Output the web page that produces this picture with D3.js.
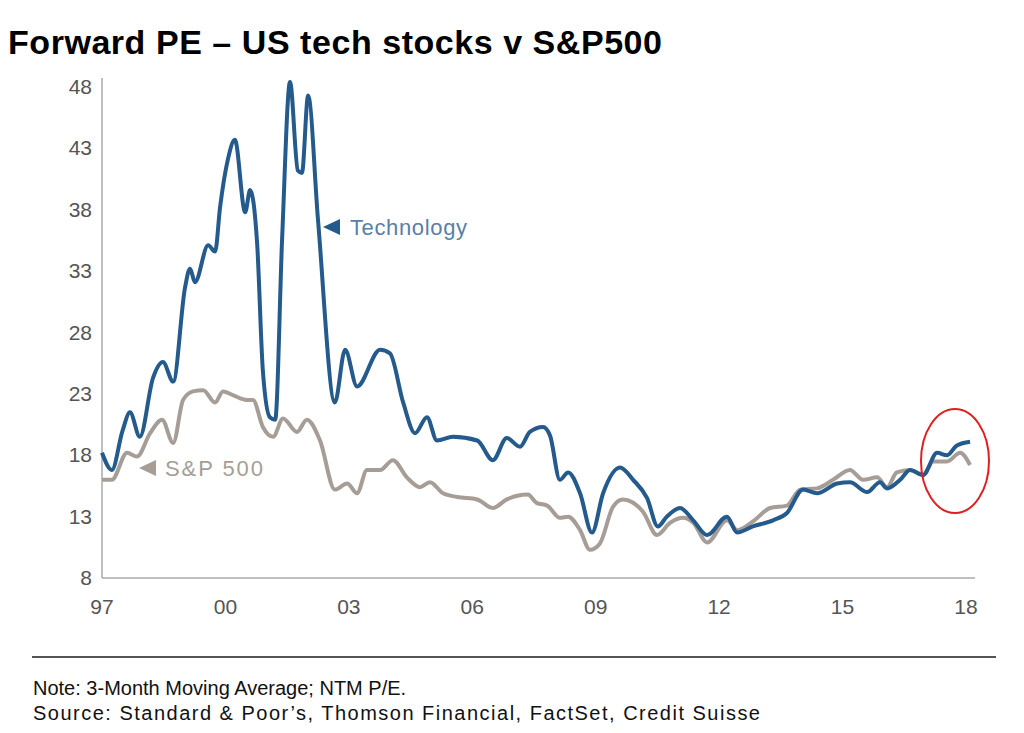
<!DOCTYPE html>
<html><head><meta charset="utf-8">
<script src="https://cdn.jsdelivr.net/npm/d3@7"></script>
<style>body{margin:0;background:#fff}</style>
</head><body>
<svg id="screen" width="1024" height="733"></svg>
<script>
// years since Jan 1997
var techX=[0,0.24,0.5,0.68,0.92,1.24,1.48,1.73,2.02,2.14,2.26,2.58,2.75,2.87,3.06,3.23,3.48,3.60,3.77,3.91,4.08,4.21,4.38,4.57,4.76,4.86,5.01,5.25,5.66,5.91,6.20,6.76,7.00,7.32,7.61,7.90,8.14,8.53,9.12,9.50,9.84,10.16,10.40,10.72,10.89,11.13,11.33,11.62,11.91,12.18,12.59,12.91,13.25,13.51,13.73,14.05,14.37,14.71,15.19,15.44,15.82,16.31,16.65,17.04,17.38,17.87,18.18,18.60,18.91,19.08,19.40,19.64,19.96,20.30,20.54,20.78,21.10];
var techY=[18.2,16.8,20,21.5,19.5,24.3,25.6,24,31.7,33.2,32.1,35.1,34.6,38.2,42.1,43.7,37.8,39.6,35.3,24.9,21.1,20.9,35.8,48.4,41.2,41,47.3,37.2,22.3,26.6,23.6,26.6,26.3,22.3,19.8,21.1,19.2,19.5,19.2,17.6,19.4,18.7,19.9,20.3,19.6,16,16.6,14.9,11.7,14.9,17,16,14.5,12.2,13,13.7,12.7,11.5,13,11.7,12.2,12.7,13.3,15.2,14.9,15.7,15.8,15,15.8,15.3,16,16.8,16.4,18.2,18,18.8,19.1];
var spX=[0,0.24,0.61,0.85,1.17,1.46,1.73,1.97,2.21,2.46,2.75,2.94,3.18,3.52,3.67,3.91,4.16,4.40,4.74,4.98,5.30,5.66,5.96,6.20,6.44,6.76,7.07,7.41,7.73,7.97,8.29,8.63,9.12,9.50,9.84,10.35,10.57,10.82,11.13,11.33,11.62,11.86,12.10,12.42,12.66,13.15,13.49,13.81,14.12,14.37,14.71,15.19,15.44,15.82,16.24,16.65,16.97,17.38,17.77,18.18,18.50,18.84,19.08,19.32,19.64,19.96,20.20,20.54,20.86,21.10];
var spY=[16,16,18.2,17.9,19.8,20.9,19,22.5,23.2,23.3,22.3,23.2,22.9,22.5,22.5,20.3,19.5,21,19.9,20.9,19.2,15.2,15.7,14.9,16.8,16.8,17.6,16.2,15.4,15.8,14.9,14.6,14.4,13.7,14.4,14.8,14.1,13.9,12.9,13,11.9,10.3,10.8,13.8,14.4,13.4,11.5,12.5,12.9,12.5,10.9,12.7,11.9,12.6,13.7,13.9,15.2,15.3,16,16.8,16,16.2,15.4,16.6,16.8,16.4,17.5,17.5,18.2,17.2];
var yTicks=[8,13,18,23,28,33,38,43,48];
var xTicks=[0,3,6,9,12,15,18,21];
var xLabels=["97","00","03","06","09","12","15","18"];

var svg=d3.select("#screen");
var x=d3.scaleLinear().domain([0,21.22]).range([102,975]);
var y=d3.scaleLinear().domain([8,48]).range([578,87]);

svg.append("text").attr("x",8).attr("y",54).attr("font-family","Liberation Sans, Arial").attr("font-weight","bold").attr("font-size",34).attr("textLength",654).text("Forward PE \u2013 US tech stocks v S&P500");

//axes
svg.append("line").attr("x1",102).attr("x2",102).attr("y1",78).attr("y2",578).attr("stroke","#aaa").attr("stroke-width",1.5);
svg.append("line").attr("x1",102).attr("x2",975).attr("y1",578).attr("y2",578).attr("stroke","#aaa").attr("stroke-width",1.5);
svg.selectAll(".yl").data(yTicks).enter().append("text").attr("x",92).attr("y",function(d){return y(d)+7;}).attr("text-anchor","end").attr("font-family","Liberation Sans, Arial").attr("font-size",21).attr("fill","#555").text(function(d){return d;});
svg.selectAll(".xl").data(xTicks).enter().append("text").attr("x",function(d){return x(d);}).attr("y",614).attr("text-anchor","middle").attr("font-family","Liberation Sans, Arial").attr("font-size",21).attr("fill","#555").text(function(d,i){return xLabels[i];});

var line=d3.line().x(function(d){return x(d[0]);}).y(function(d){return y(d[1]);}).curve(d3.curveMonotoneX);
svg.append("path").datum(spX.map(function(v,i){return [v,spY[i]];})).attr("d",line).attr("fill","none").attr("stroke","#a69d97").attr("stroke-width",4);
svg.append("path").datum(techX.map(function(v,i){return [v,techY[i]];})).attr("d",line).attr("fill","none").attr("stroke","#245a8c").attr("stroke-width",4);

//labels
svg.append("path").attr("d","M323,227 L340,219 L340,235 Z").attr("fill","#245a8c");
svg.append("text").attr("x",350).attr("y",235).attr("font-family","Liberation Sans, Arial").attr("font-size",22).attr("fill","#5a7fa6").attr("textLength",117).text("Technology");
svg.append("path").attr("d","M139,468 L156,460 L156,476 Z").attr("fill","#a69d97");
svg.append("text").attr("x",165).attr("y",476).attr("font-family","Liberation Sans, Arial").attr("font-size",22).attr("fill","#a69d97").attr("textLength",98).text("S&P 500");

svg.append("ellipse").attr("cx",955).attr("cy",461).attr("rx",34).attr("ry",52).attr("fill","none").attr("stroke","#e02020").attr("stroke-width",2);

svg.append("line").attr("x1",32).attr("x2",996).attr("y1",657).attr("y2",657).attr("stroke","#555").attr("stroke-width",2);
svg.append("text").attr("x",33).attr("y",695).attr("font-family","Liberation Sans, Arial").attr("font-size",20).attr("fill","#111").text("Note: 3-Month Moving Average; NTM P/E.");
svg.append("text").attr("x",33).attr("y",720).attr("font-family","Liberation Sans, Arial").attr("font-size",20).attr("fill","#111").attr("textLength",727).text("Source: Standard & Poor\u2019s, Thomson Financial, FactSet, Credit Suisse");
</script>
</body></html>
